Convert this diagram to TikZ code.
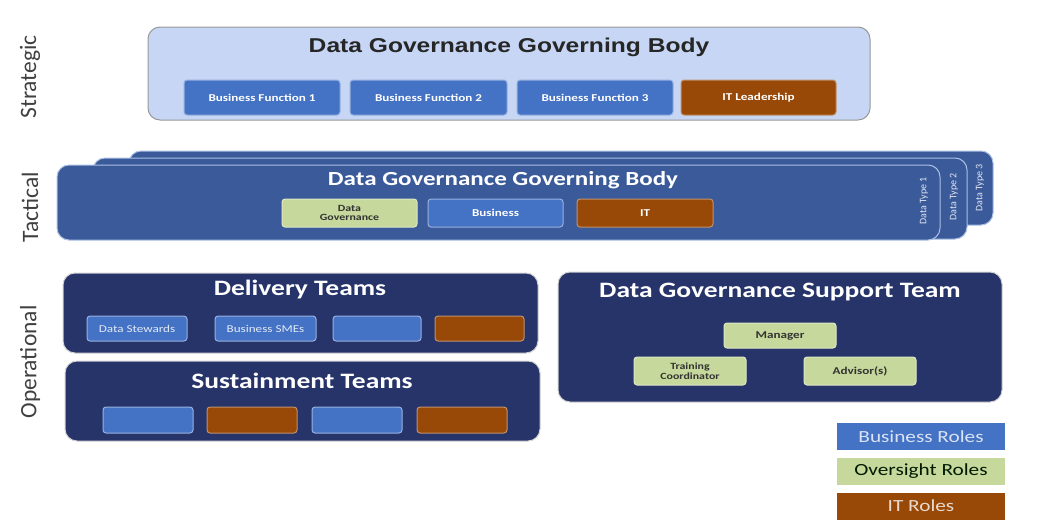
\documentclass[tikz,border=0pt]{standalone}
\usepackage{fontspec}
\setmainfont{Carlito}[FakeStretch=1.25]
\newfontfamily\tierfont{Carlito}
\newfontfamily\arialfont{Liberation Sans}[FakeStretch=1.23]
\definecolor{busblue}{HTML}{4472C4}
\definecolor{oversight}{HTML}{C6D89B}
\definecolor{itbrown}{HTML}{984807}
\definecolor{stratfill}{HTML}{C6D6F4}
\definecolor{tactfill}{HTML}{3A5A9A}
\definecolor{opnavy}{HTML}{26346A}
\definecolor{tiergray}{HTML}{404040}

\begin{document}
\begin{tikzpicture}[x=1pt,y=-1pt,
    every node/.style={inner sep=0pt},
    tierlabel/.style={rotate=90, text=tiergray, font=\tierfont\fontsize{23.5}{23.5}\selectfont},
    layerbox/.style={rounded corners=12pt, line width=1pt},
    stratbox/.style={layerbox, fill=stratfill, draw=gray!80},
    tactbox/.style={layerbox, fill=tactfill, draw=busblue!45!white},
    opbox/.style={layerbox, fill=opnavy, draw=gray!35},
    boxtitle/.style={text=white, font=\fontsize{22}{22}\selectfont\bfseries},
    role/.style={rounded corners=3pt, line width=1pt, align=center,
        font=\fontsize{10.5}{10}\selectfont\bfseries},
    busrole/.style={role, fill=busblue, draw=busblue!55!white, text=white},
    itrole/.style={role, fill=itbrown, draw=itbrown!60!white, text=white},
    ovrole/.style={role, fill=oversight, draw=oversight!60!white, text=black!80},
    legendbox/.style={minimum width=168pt, minimum height=27pt,
        font=\fontsize{17}{17}\selectfont}
  ]
  \useasboundingbox (0,0) rectangle (1043,520);

  % tier labels
  \node [tierlabel] (strategic) at (30,77) {Strategic};
  \node [tierlabel] (tactical) at (30,207) {Tactical};
  \node [tierlabel] (operational) at (30,362) {Operational};

  % strategic layer
  \node [stratbox, minimum width=722pt, minimum height=93pt] (stratbody) at (509,73.5) {};
  \node [font=\arialfont\fontsize{20}{20}\selectfont\bfseries, text=black!85] (strattitle) at (509,47) {Data Governance Governing Body};
  \node [busrole, minimum width=156pt, minimum height=35pt] (bfone) at (262,97.5) {Business Function 1};
  \node [busrole, minimum width=157pt, minimum height=35pt] (bftwo) at (428.5,97.5) {Business Function 2};
  \node [busrole, minimum width=156pt, minimum height=35pt] (bfthree) at (595,97.5) {Business Function 3};
  \node [itrole, minimum width=155pt, minimum height=35pt] (itlead) at (758.5,97.5) {IT Leadership};

  % tactical layer, one body per data type
  \node [tactbox, minimum width=864pt, minimum height=74pt] (tactthree) at (561,188) {};
  \node [tactbox, minimum width=874pt, minimum height=81pt] (tacttwo) at (530,198.5) {};
  \node [tactbox, minimum width=883pt, minimum height=75pt] (tactone) at (498.5,202.5) {};
  \node [boxtitle, font=\fontsize{20}{20}\selectfont\bfseries] (tacttitle) at (503,180) {Data Governance Governing Body};
  \node [ovrole, minimum width=135pt, minimum height=28pt, font=\fontsize{9.5}{9.5}\selectfont\bfseries] (tactdg) at (349.5,213) {Data\\Governance};
  \node [busrole, minimum width=135pt, minimum height=28pt] (tactbus) at (495.5,213) {Business};
  \node [itrole, minimum width=136pt, minimum height=28pt] (tactit) at (645,213) {IT};
  \foreach \n/\x/\y in {1/924/201, 2/954/197, 3/980/188}
    \node [rotate=90, text=white!85!tactfill, font=\tierfont\fontsize{10}{10}\selectfont] (dtype\n) at (\x,\y) {Data Type \n};

  % operational layer
  \node [opbox, minimum width=475pt, minimum height=80pt] (delivery) at (300.5,313) {};
  \node [boxtitle] (deliverytitle) at (300,290) {Delivery Teams};
  \node [busrole, minimum width=100pt, minimum height=25pt, text=white!85!busblue, font=\fontsize{10.5}{10}\selectfont] (stewards) at (137,328.5) {Data Stewards};
  \node [busrole, minimum width=101pt, minimum height=25pt, text=white!85!busblue, font=\fontsize{10.5}{10}\selectfont] (smes) at (265.5,328.5) {Business SMEs};
  \node [busrole, minimum width=88pt, minimum height=25pt] (delbus) at (377,328.5) {};
  \node [itrole, minimum width=89pt, minimum height=25pt] (delit) at (479.5,328.5) {};

  \node [opbox, minimum width=475pt, minimum height=80pt] (sustain) at (302.5,401) {};
  \node [boxtitle] (sustaintitle) at (302,381) {Sustainment Teams};
  \foreach \i/\x/\kind in {1/148/busrole, 2/252/itrole, 3/357/busrole, 4/462/itrole}
    \node [\kind, minimum width=90pt, minimum height=26pt] (sust\i) at (\x,420) {};

  \node [opbox, minimum width=444pt, minimum height=130pt] (support) at (780,337) {};
  \node [boxtitle] (supporttitle) at (780,292) {Data Governance Support Team};
  \node [ovrole, minimum width=112pt, minimum height=25pt] (manager) at (780,335.5) {Manager};
  \node [ovrole, minimum width=112pt, minimum height=28pt, font=\fontsize{9.5}{9.5}\selectfont\bfseries] (trainer) at (690,371) {Training\\Coordinator};
  \node [ovrole, minimum width=112pt, minimum height=28pt] (advisor) at (860,371) {Advisor(s)};

  % legend
  \node [legendbox, fill=busblue, text=white!80!busblue] (legbus) at (921,436.5) {Business Roles};
  \node [legendbox, fill=oversight, text=black!75!green!40!black] (legover) at (921,471) {Oversight Roles};
  \node [legendbox, fill=itbrown, text=white!80!itbrown] (legit) at (921,506) {IT Roles};
\end{tikzpicture}
\end{document}
